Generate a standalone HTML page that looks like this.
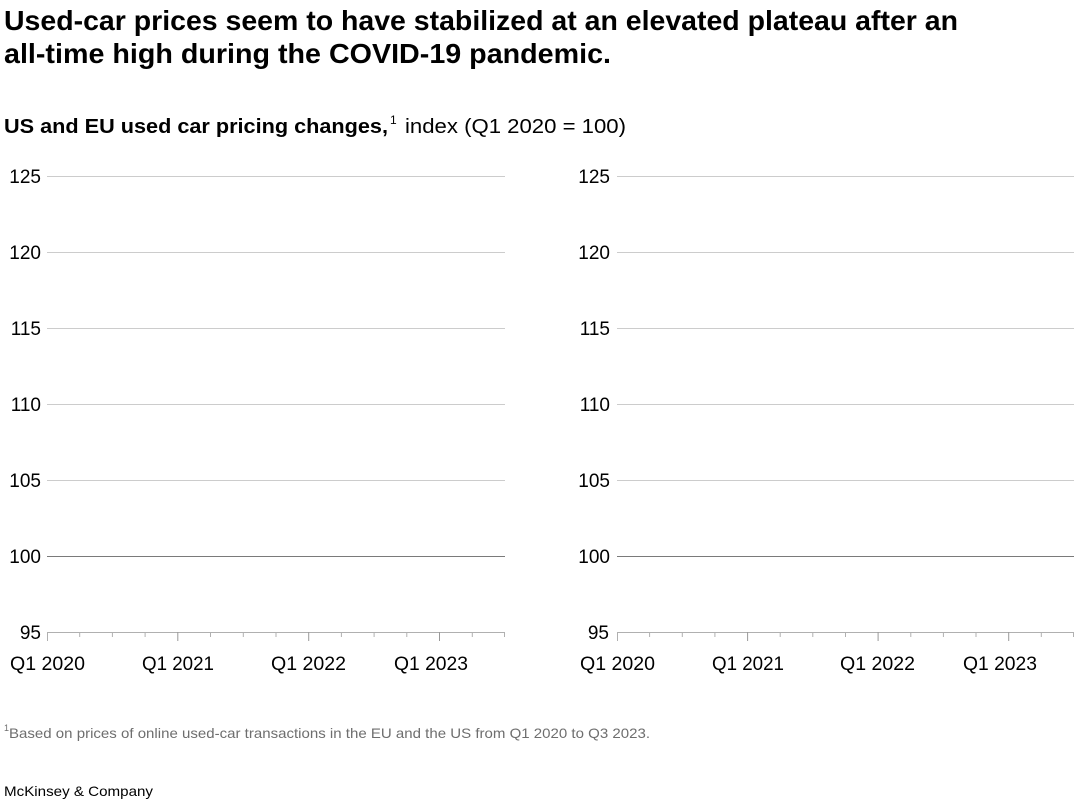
<!DOCTYPE html>
<html>
<head>
<meta charset="utf-8">
<style>
html,body{margin:0;padding:0;background:#fff;}
svg{display:block;}
text{font-family:"Liberation Sans",Arial,sans-serif;}
</style>
</head>
<body>
<svg width="1080" height="810" viewBox="0 0 1080 810" xmlns="http://www.w3.org/2000/svg">
<rect width="1080" height="810" fill="#fff"/>
<!-- Title -->
<text x="4" y="30" font-size="27.5" font-weight="bold" fill="#000" textLength="954" lengthAdjust="spacingAndGlyphs">Used-car prices seem to have stabilized at an elevated plateau after an</text>
<text x="4" y="63" font-size="27.5" font-weight="bold" fill="#000" textLength="607" lengthAdjust="spacingAndGlyphs">all-time high during the COVID-19 pandemic.</text>
<!-- Subtitle -->
<text x="4" y="133" font-size="20" font-weight="bold" fill="#000" textLength="384" lengthAdjust="spacingAndGlyphs">US and EU used car pricing changes,</text>
<text x="390" y="124" font-size="12" fill="#000">1</text>
<text x="405" y="133" font-size="20" fill="#000" textLength="221" lengthAdjust="spacingAndGlyphs">index (Q1 2020 = 100)</text>

<!-- LEFT CHART -->
<g id="left">
  <g stroke="#cccccc" stroke-width="1">
    <line x1="47" y1="176.5" x2="505" y2="176.5"/>
    <line x1="47" y1="252.5" x2="505" y2="252.5"/>
    <line x1="47" y1="328.5" x2="505" y2="328.5"/>
    <line x1="47" y1="404.5" x2="505" y2="404.5"/>
    <line x1="47" y1="480.5" x2="505" y2="480.5"/>
  </g>
  <line x1="47" y1="556.5" x2="505" y2="556.5" stroke="#7a7a7a" stroke-width="1"/>
  <line x1="47" y1="632.5" x2="505" y2="632.5" stroke="#b0b0b0" stroke-width="1"/>
  <g stroke="#b0b0b0" stroke-width="1">
    <line x1="47.5" y1="632" x2="47.5" y2="641"/>
    <line x1="79.7" y1="632" x2="79.7" y2="637"/>
    <line x1="112.4" y1="632" x2="112.4" y2="637"/>
    <line x1="145.1" y1="632" x2="145.1" y2="637"/>
    <line x1="177.8" y1="632" x2="177.8" y2="641" stroke="#999"/>
    <line x1="210.5" y1="632" x2="210.5" y2="637"/>
    <line x1="243.3" y1="632" x2="243.3" y2="637"/>
    <line x1="276.0" y1="632" x2="276.0" y2="637"/>
    <line x1="308.7" y1="632" x2="308.7" y2="641" stroke="#999"/>
    <line x1="341.4" y1="632" x2="341.4" y2="637"/>
    <line x1="374.1" y1="632" x2="374.1" y2="637"/>
    <line x1="406.8" y1="632" x2="406.8" y2="637"/>
    <line x1="439.5" y1="632" x2="439.5" y2="641" stroke="#999"/>
    <line x1="472.3" y1="632" x2="472.3" y2="637"/>
    <line x1="504.5" y1="632" x2="504.5" y2="637"/>
  </g>
  <g font-size="19" fill="#000" text-anchor="end">
    <text x="41" y="183">125</text>
    <text x="41" y="259">120</text>
    <text x="41" y="335">115</text>
    <text x="41" y="411">110</text>
    <text x="41" y="487">105</text>
    <text x="41" y="563">100</text>
    <text x="41" y="639">95</text>
  </g>
  <g font-size="19" fill="#000">
    <text x="10" y="670" textLength="75" lengthAdjust="spacingAndGlyphs">Q1 2020</text>
    <text x="142" y="670" textLength="72" lengthAdjust="spacingAndGlyphs">Q1 2021</text>
    <text x="271" y="670" textLength="75" lengthAdjust="spacingAndGlyphs">Q1 2022</text>
    <text x="394" y="670" textLength="74" lengthAdjust="spacingAndGlyphs">Q1 2023</text>
  </g>
</g>

<!-- RIGHT CHART -->
<g id="right">
  <g stroke="#cccccc" stroke-width="1">
    <line x1="617" y1="176.5" x2="1074" y2="176.5"/>
    <line x1="617" y1="252.5" x2="1074" y2="252.5"/>
    <line x1="617" y1="328.5" x2="1074" y2="328.5"/>
    <line x1="617" y1="404.5" x2="1074" y2="404.5"/>
    <line x1="617" y1="480.5" x2="1074" y2="480.5"/>
  </g>
  <line x1="617" y1="556.5" x2="1074" y2="556.5" stroke="#7a7a7a" stroke-width="1"/>
  <line x1="617" y1="632.5" x2="1074" y2="632.5" stroke="#b0b0b0" stroke-width="1"/>
  <g stroke="#b0b0b0" stroke-width="1">
    <line x1="617.5" y1="632" x2="617.5" y2="641"/>
    <line x1="649.6" y1="632" x2="649.6" y2="637"/>
    <line x1="682.3" y1="632" x2="682.3" y2="637"/>
    <line x1="714.9" y1="632" x2="714.9" y2="637"/>
    <line x1="747.6" y1="632" x2="747.6" y2="641" stroke="#999"/>
    <line x1="780.2" y1="632" x2="780.2" y2="637"/>
    <line x1="812.8" y1="632" x2="812.8" y2="637"/>
    <line x1="845.5" y1="632" x2="845.5" y2="637"/>
    <line x1="878.1" y1="632" x2="878.1" y2="641" stroke="#999"/>
    <line x1="910.8" y1="632" x2="910.8" y2="637"/>
    <line x1="943.4" y1="632" x2="943.4" y2="637"/>
    <line x1="976.0" y1="632" x2="976.0" y2="637"/>
    <line x1="1008.7" y1="632" x2="1008.7" y2="641" stroke="#999"/>
    <line x1="1041.3" y1="632" x2="1041.3" y2="637"/>
    <line x1="1073.5" y1="632" x2="1073.5" y2="637"/>
  </g>
  <g font-size="19" fill="#000" text-anchor="end">
    <text x="610" y="183">125</text>
    <text x="610" y="259">120</text>
    <text x="610" y="335">115</text>
    <text x="610" y="411">110</text>
    <text x="610" y="487">105</text>
    <text x="610" y="563">100</text>
    <text x="609" y="639">95</text>
  </g>
  <g font-size="19" fill="#000">
    <text x="580" y="670" textLength="75" lengthAdjust="spacingAndGlyphs">Q1 2020</text>
    <text x="712" y="670" textLength="72" lengthAdjust="spacingAndGlyphs">Q1 2021</text>
    <text x="840" y="670" textLength="75" lengthAdjust="spacingAndGlyphs">Q1 2022</text>
    <text x="963" y="670" textLength="74" lengthAdjust="spacingAndGlyphs">Q1 2023</text>
  </g>
</g>

<!-- Footnote -->
<text x="4" y="731" font-size="9" fill="#6e6e6e">1</text>
<text x="9" y="738" font-size="14" fill="#6e6e6e" textLength="641" lengthAdjust="spacingAndGlyphs">Based on prices of online used-car transactions in the EU and the US from Q1 2020 to Q3 2023.</text>
<text x="4" y="796" font-size="14" fill="#000" textLength="149" lengthAdjust="spacingAndGlyphs">McKinsey &amp; Company</text>
</svg>
</body>
</html>
